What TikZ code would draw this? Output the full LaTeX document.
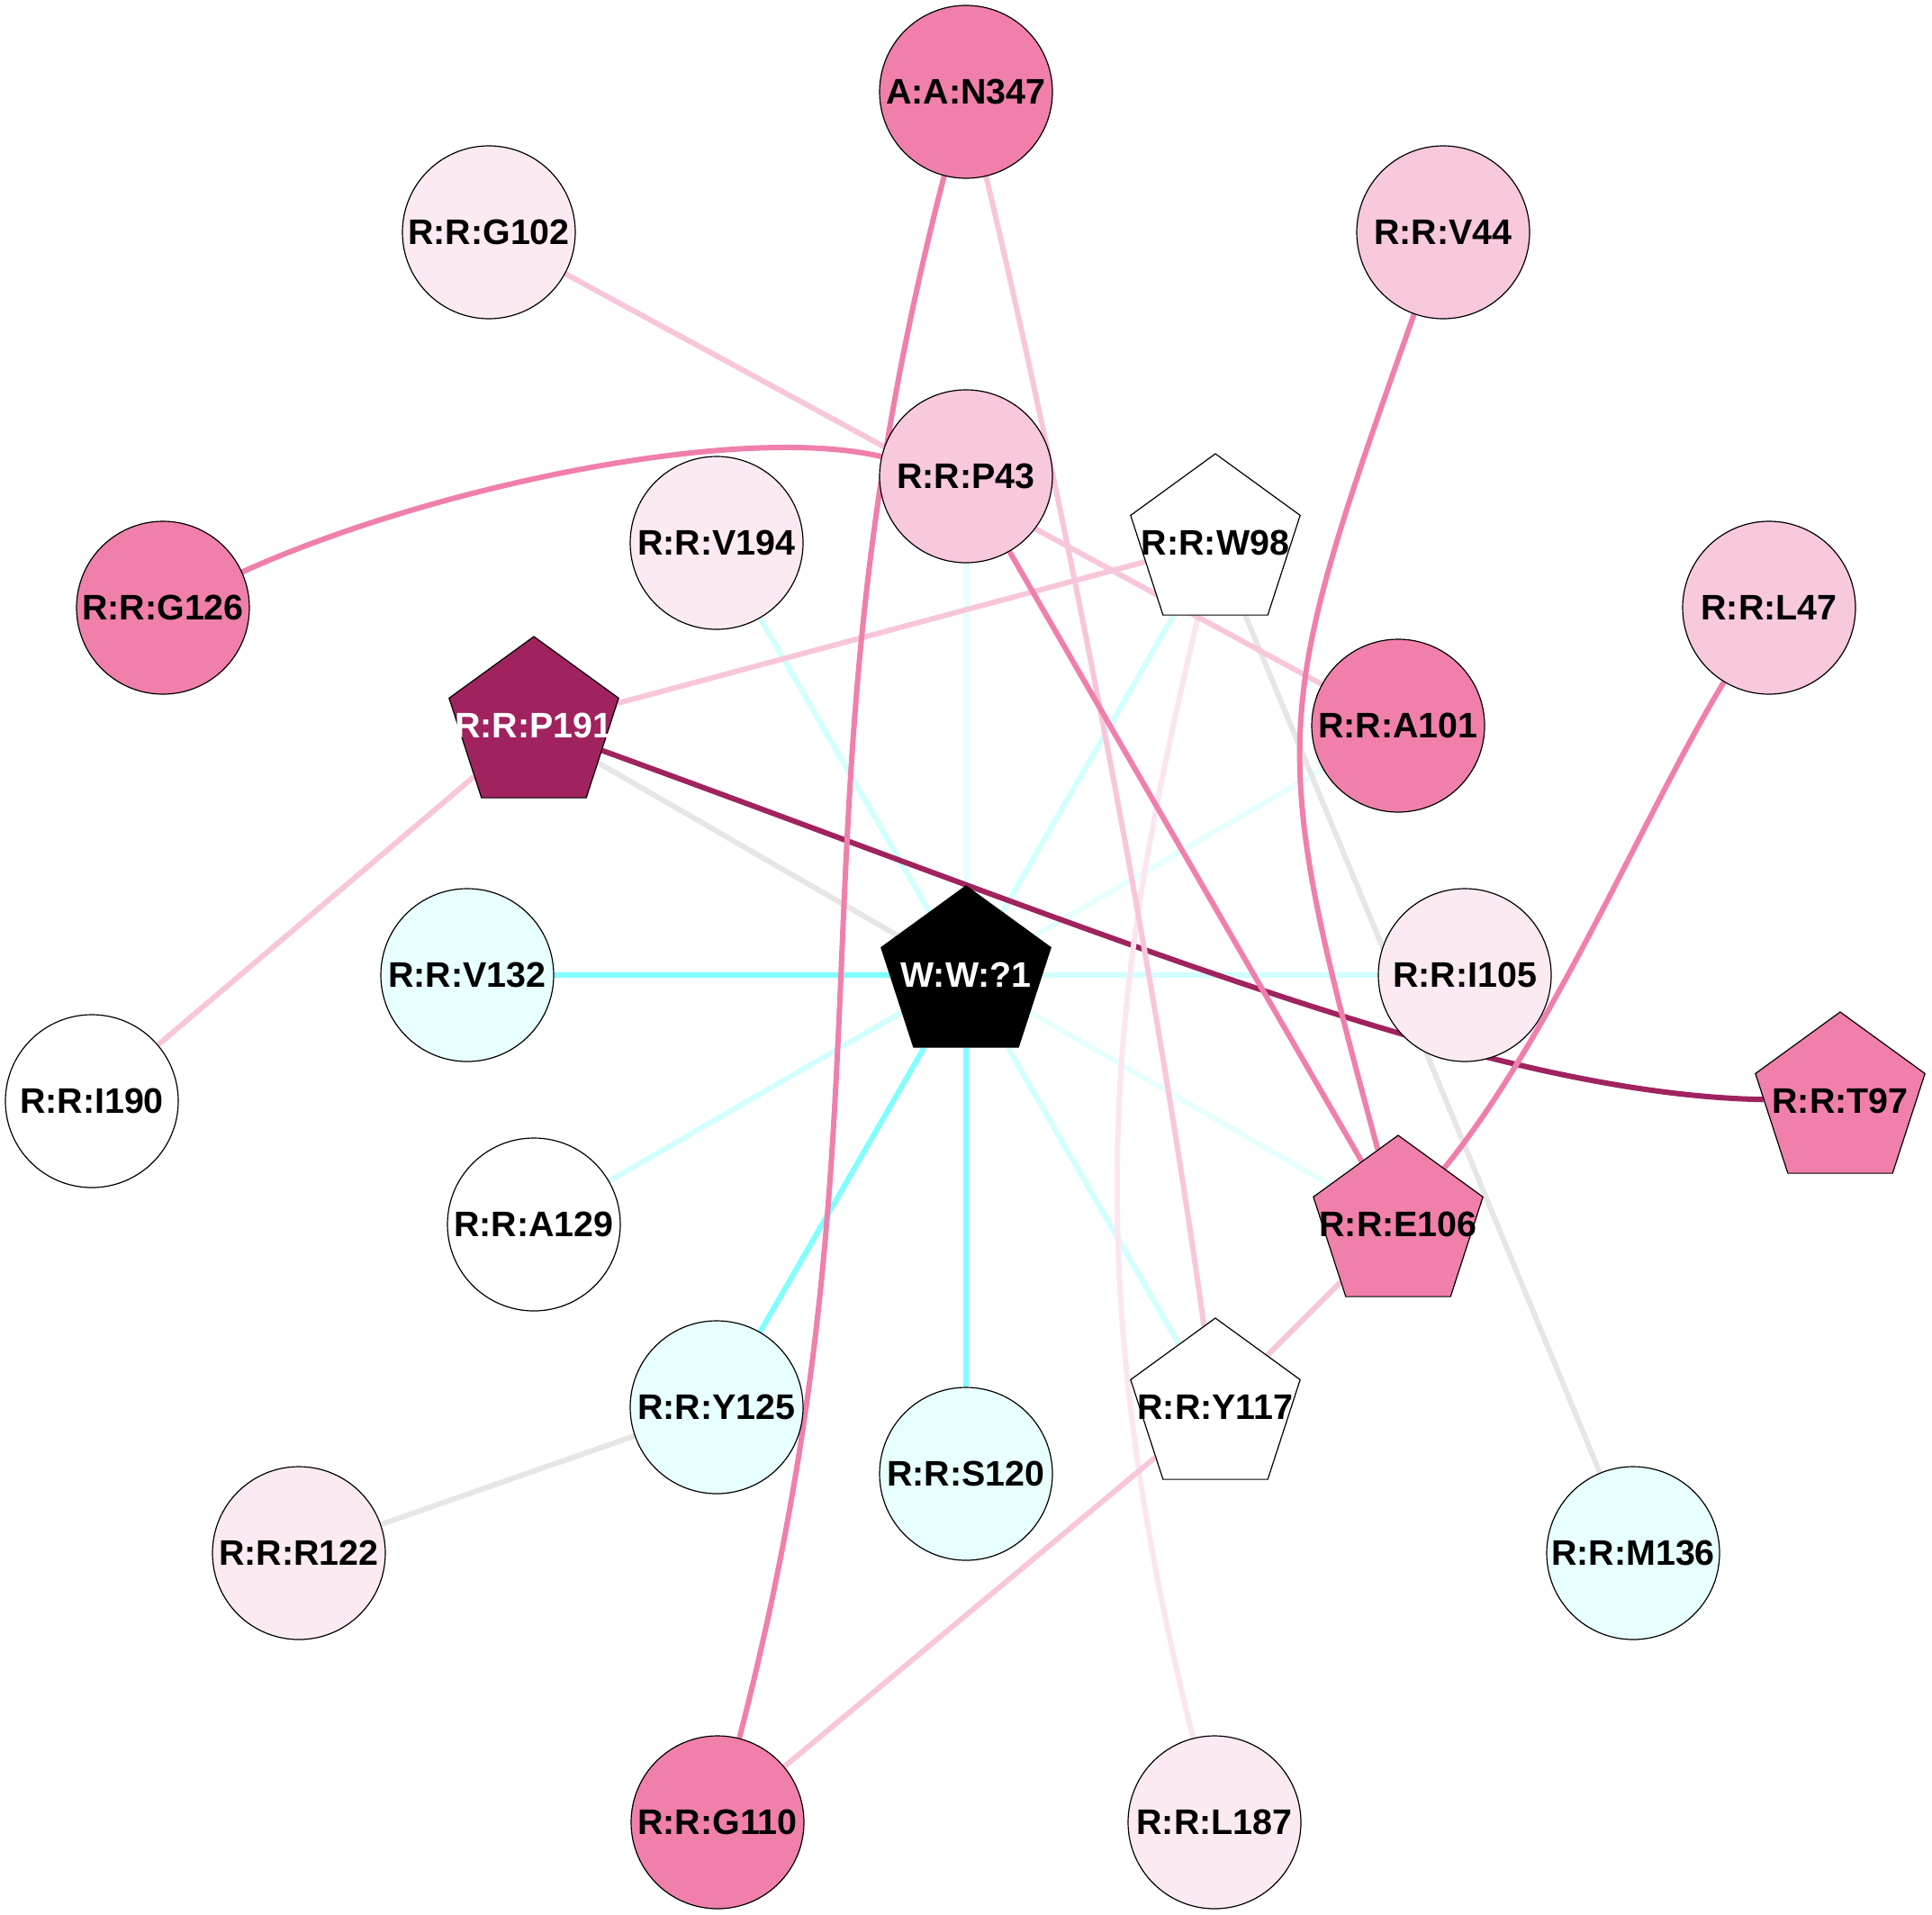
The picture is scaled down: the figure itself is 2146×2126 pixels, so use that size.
\documentclass[tikz,border=0pt]{standalone}
\usepackage{fontspec}
\setmainfont{Liberation Sans}
\usetikzlibrary{shapes.geometric}
\definecolor{pkM}{HTML}{F07FAB}
\definecolor{pkL}{HTML}{F8C8DC}
\definecolor{pkV}{HTML}{FBEAF2}
\definecolor{cyN}{HTML}{E8FFFF}
\definecolor{dmag}{HTML}{A0235F}
\definecolor{eCyS}{HTML}{80FFFF}
\definecolor{eCyL}{HTML}{D2FFFF}
\definecolor{eCyV}{HTML}{E6FFFF}
\definecolor{eGr}{HTML}{E6E6E6}
\definecolor{ePkL}{HTML}{F8C6DB}
\definecolor{ePkV}{HTML}{FBE6EF}
\pgfdeclarelayer{bg}
\pgfsetlayers{bg,main}
\begin{document}
\begin{tikzpicture}[x=0.5pt,y=-0.5pt,
  cn/.style={circle,draw=black,line width=0.6pt,minimum size=96pt,inner sep=0pt},
  pn/.style={regular polygon,regular polygon sides=5,draw=black,line width=0.6pt,minimum size=99pt,inner sep=0pt},
  tx/.style={font=\fontsize{19.7pt}{23pt}\selectfont\bfseries,inner sep=0pt,text=black},
  twh/.style={tx,text=white},
  ed/.style={line width=3pt}]
\useasboundingbox (0,0) rectangle (2146,2126);

% outer ring
\node[cn,fill=pkM] (n347) at (1073,102) {};
\node[tx] (tn347) at (n347) {A:A:N347};
\node[cn,fill=pkL] (v44) at (1603,258) {};
\node[tx] (tv44) at (v44) {R:R:V44};
\node[cn,fill=pkL] (l47) at (1965,675) {};
\node[tx] (tl47) at (l47) {R:R:L47};
\node[pn,fill=pkM] (t97) at (2044,1223) {};
\node[tx] (tt97) at (t97) {R:R:T97};
\node[cn,fill=cyN] (m136) at (1814,1725) {};
\node[tx] (tm136) at (m136) {R:R:M136};
\node[cn,fill=pkV] (l187) at (1349,2024) {};
\node[tx] (tl187) at (l187) {R:R:L187};
\node[cn,fill=pkM] (g110) at (797,2024) {};
\node[tx] (tg110) at (g110) {R:R:G110};
\node[cn,fill=pkV] (r122) at (332,1725) {};
\node[tx] (tr122) at (r122) {R:R:R122};
\node[cn,fill=white] (i190) at (102,1223) {};
\node[tx] (ti190) at (i190) {R:R:I190};
\node[cn,fill=pkM] (g126) at (181,675) {};
\node[tx] (tg126) at (g126) {R:R:G126};
\node[cn,fill=pkV] (g102) at (543,258) {};
\node[tx] (tg102) at (g102) {R:R:G102};

% inner ring
\node[cn,fill=pkL] (p43) at (1073,529) {};
\node[tx] (tp43) at (p43) {R:R:P43};
\node[pn,fill=white] (w98) at (1350,603) {};
\node[tx] (tw98) at (w98) {R:R:W98};
\node[cn,fill=pkM] (a101) at (1553,806) {};
\node[tx] (ta101) at (a101) {R:R:A101};
\node[cn,fill=pkV] (i105) at (1627,1083) {};
\node[tx] (ti105) at (i105) {R:R:I105};
\node[pn,fill=pkM] (e106) at (1553,1360) {};
\node[tx] (te106) at (e106) {R:R:E106};
\node[pn,fill=white] (y117) at (1350,1563) {};
\node[tx] (ty117) at (y117) {R:R:Y117};
\node[cn,fill=cyN] (s120) at (1073,1637) {};
\node[tx] (ts120) at (s120) {R:R:S120};
\node[cn,fill=cyN] (y125) at (796,1563) {};
\node[tx] (ty125) at (y125) {R:R:Y125};
\node[cn,fill=white] (a129) at (593,1360) {};
\node[tx] (ta129) at (a129) {R:R:A129};
\node[cn,fill=cyN] (v132) at (519,1083) {};
\node[tx] (tv132) at (v132) {R:R:V132};
\node[pn,fill=dmag] (p191) at (593,806) {};
\node[twh] (tp191) at (p191) {R:R:P191};
\node[cn,fill=pkV] (v194) at (796,603) {};
\node[tx] (tv194) at (v194) {R:R:V194};

% centre
\node[pn,fill=black] (w1) at (1073,1083) {};
\node[twh] (tw1) at (w1) {W:W:?1};

\begin{pgfonlayer}{bg}
  % cyan edges from the centre
  \draw[ed,eCyV] (w1) -- (p43);
  \draw[ed,eCyV] (w1) -- (a101);
  \draw[ed,eCyV] (w1) -- (e106);
  \draw[ed,eCyL] (w1) -- (w98);
  \draw[ed,eCyL] (w1) -- (i105);
  \draw[ed,eCyL] (w1) -- (y117);
  \draw[ed,eCyL] (w1) -- (a129);
  \draw[ed,eCyL] (w1) -- (v194);
  \draw[ed,eCyS] (w1) -- (v132);
  \draw[ed,eCyS] (w1) -- (y125);
  \draw[ed,eCyS] (w1) -- (s120);
  % grey edges
  \draw[ed,eGr] (p191) -- (w1);
  \draw[ed,eGr] (w98) -- (m136);
  \draw[ed,eGr] (y125) -- (r122);
  % dark magenta
  \draw[ed,dmag] (p191) .. controls (1250,1045) and (1650,1215) .. (t97);
  % light pink
  \draw[ed,ePkV] (w98) .. controls (1244,1054) and (1184,1371) .. (l187);
  \draw[ed,ePkL] (g102) -- (a101);
  \draw[ed,ePkL] (w98) -- (p191);
  \draw[ed,ePkL] (p191) -- (i190);
  \draw[ed,ePkL] (e106) -- (y117);
  \draw[ed,ePkL] (y117) -- (g110);
  \draw[ed,ePkL] (n347) .. controls (1189,590) and (1282,1076) .. (y117);
  % medium pink
  \draw[ed,pkM] (p43) -- (e106);
  \draw[ed,pkM] (n347) .. controls (865,903) and (1005,1221) .. (g110);
  \draw[ed,pkM] (v44) .. controls (1412,796) and (1406,819) .. (e106);
  \draw[ed,pkM] (p43) .. controls (820,470) and (480,540) .. (g126);
  \draw[ed,pkM] (l47) .. controls (1827,902) and (1724,1151) .. (e106);
\end{pgfonlayer}
\end{tikzpicture}
\end{document}
